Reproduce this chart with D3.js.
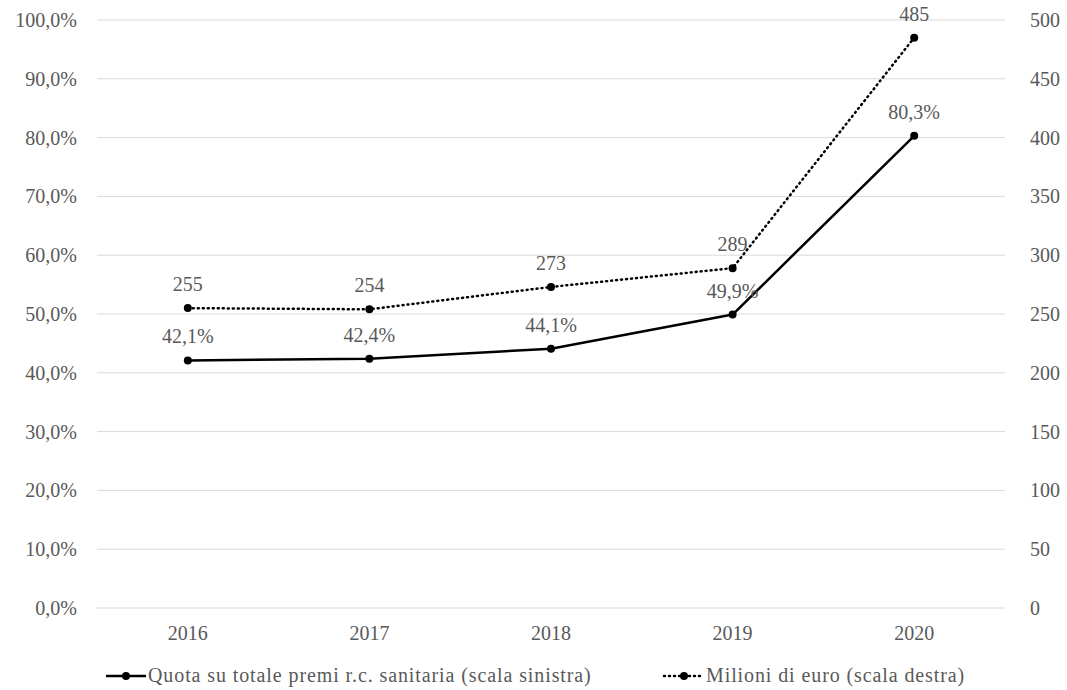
<!DOCTYPE html>
<html>
<head>
<meta charset="utf-8">
<script src="https://cdn.jsdelivr.net/npm/d3@7"></script>
<style>
  body { margin: 0; background: #fff; }
  svg text { font-family: "Liberation Serif", "DejaVu Serif", serif; fill: #595959; font-size: 20px; }
</style>
</head>
<body>
<svg id="chart" width="1067" height="690"></svg>
<script>
// Data
const years = ["2016", "2017", "2018", "2019", "2020"];
const quota = [42.1, 42.4, 44.1, 49.9, 80.3];      // % (left axis)
const milioni = [255, 254, 273, 289, 485];          // million euro (right axis)
const leftTicks = [0, 10, 20, 30, 40, 50, 60, 70, 80, 90, 100];
const rightTicks = [0, 50, 100, 150, 200, 250, 300, 350, 400, 450, 500];

const svg = d3.select("#chart");
const plotLeft = 97, plotRight = 1005, plotTop = 20, plotBottom = 608;

const x = d3.scaleBand().domain(years).range([plotLeft, plotRight]);
const yL = d3.scaleLinear().domain([0, 100]).range([plotBottom, plotTop]);
const yR = d3.scaleLinear().domain([0, 500]).range([plotBottom, plotTop]);

const fmtPct = v => d3.format(".1f")(v).replace(".", ",") + "%";

// Gridlines
svg.append("g")
    .selectAll("line")
    .data(leftTicks)
    .enter().append("line")
    .attr("x1", plotLeft).attr("x2", plotRight)
    .attr("y1", d => yL(d)).attr("y2", d => yL(d))
    .attr("stroke", "#d9d9d9").attr("stroke-width", 1);

// Left axis
svg.append("g")
    .attr("transform", `translate(${plotLeft},0)`)
    .call(d3.axisLeft(yL).tickValues(leftTicks).tickFormat(fmtPct).tickSize(0).tickPadding(20))
    .call(g => g.select(".domain").remove())
    .selectAll("text").style("font-size", "20px").style("font-family", null);

// Right axis
svg.append("g")
    .attr("transform", `translate(${plotRight},0)`)
    .call(d3.axisRight(yR).tickValues(rightTicks).tickSize(0).tickPadding(25))
    .call(g => g.select(".domain").remove())
    .selectAll("text").style("font-size", "20px").style("font-family", null);

// X axis
svg.append("g")
    .attr("transform", `translate(0,${plotBottom})`)
    .call(d3.axisBottom(x).tickSize(0).tickPadding(18))
    .call(g => g.select(".domain").remove())
    .selectAll("text").style("font-size", "20px").style("font-family", null);

const cx = d => x(d) + x.bandwidth() / 2;

// Line: quota
const lineL = d3.line().x((d, i) => cx(years[i])).y(d => yL(d));
svg.append("path")
    .datum(quota)
    .attr("d", lineL)
    .attr("fill", "none").attr("stroke", "#000").attr("stroke-width", 2.5)
    .attr("stroke-linejoin", "round");
svg.append("g").selectAll("circle")
    .data(quota).enter().append("circle")
    .attr("cx", (d, i) => cx(years[i])).attr("cy", d => yL(d)).attr("r", 4).attr("fill", "#000");
svg.append("g").selectAll("text")
    .data(quota).enter().append("text")
    .attr("x", (d, i) => cx(years[i])).attr("y", d => yL(d) - 17)
    .attr("text-anchor", "middle")
    .text(d => fmtPct(d));

// Line: milioni
const lineR = d3.line().x((d, i) => cx(years[i])).y(d => yR(d));
svg.append("path")
    .datum(milioni)
    .attr("d", lineR)
    .attr("fill", "none").attr("stroke", "#000").attr("stroke-width", 2.5)
    .attr("stroke-dasharray", "1 4").attr("stroke-linecap", "round");
svg.append("g").selectAll("circle")
    .data(milioni).enter().append("circle")
    .attr("cx", (d, i) => cx(years[i])).attr("cy", d => yR(d)).attr("r", 4).attr("fill", "#000");
svg.append("g").selectAll("text")
    .data(milioni).enter().append("text")
    .attr("x", (d, i) => cx(years[i])).attr("y", d => yR(d) - 17)
    .attr("text-anchor", "middle")
    .text(d => d);

// Legend
const legend = [
    {label: "Quota su totale premi r.c. sanitaria (scala sinistra)", x: 106, dash: null},
    {label: "Milioni di euro (scala destra)", x: 664, dash: "1 4"}
];
const lg = svg.append("g").selectAll("g")
    .data(legend).enter().append("g")
    .attr("transform", d => `translate(${d.x},676)`);
lg.append("line")
    .attr("x1", 0).attr("x2", 40).attr("y1", 0).attr("y2", 0)
    .attr("stroke", "#000").attr("stroke-width", 2.5)
    .attr("stroke-dasharray", d => d.dash).attr("stroke-linecap", d => d.dash ? "round" : "butt");
lg.append("circle").attr("cx", 20).attr("cy", 0).attr("r", 4).attr("fill", "#000");
lg.append("text").attr("x", 42).attr("y", 6)
    .style("letter-spacing", "0.9px")
    .text(d => d.label);
</script>
</body>
</html>
